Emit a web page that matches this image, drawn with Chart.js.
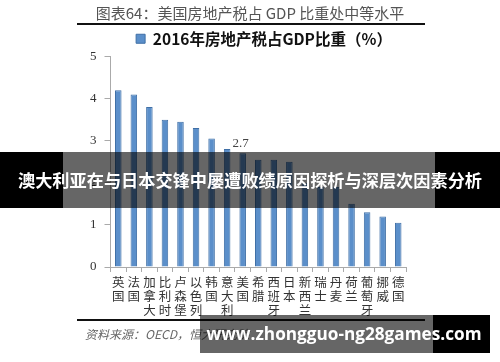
<!DOCTYPE html>
<html>
<head>
<meta charset="utf-8">
<script src="https://cdn.jsdelivr.net/npm/chart.js@4.4.1/dist/chart.umd.min.js"></script>
<style>
  html, body { margin: 0; padding: 0; background: #fff; }
  #wrap { position: relative; width: 500px; height: 362px; overflow: hidden; }
  canvas { position: absolute; left: 0; top: 0; }
  .blk { position: absolute; background: #000; }
  .dim { position: absolute; background: rgba(0, 0, 0, 0.6); }
  .txt { position: absolute; color: #fff; font-weight: bold; white-space: nowrap; text-align: center; }
</style>
</head>
<body>
<div id="wrap">
  <canvas id="fangchanshui" width="500" height="362"></canvas>

  <!-- banner in the middle -->
  <div class="blk" style="left:0; top:152px; width:63px; height:56px;"></div>
  <div class="dim" style="left:63px; top:152px; width:372px; height:56px;"></div>
  <div class="blk" style="left:435px; top:152px; width:65px; height:56px;"></div>
  <div class="txt" style="left:0; top:152px; width:500px; line-height:56px; font-size:17.2px; font-family:'Noto Sans CJK SC', sans-serif;">澳大利亚在与日本交锋中屡遭败绩原因探析与深层次因素分析</div>

  <!-- site banner at the bottom -->
  <div class="dim" style="left:200px; top:315px; width:233px; height:38px;"></div>
  <div class="blk" style="left:433px; top:315px; width:57px; height:38px;"></div>
  <div class="txt" style="left:205px; top:315px; width:278px; line-height:38px; font-size:17.2px; font-family:'Open Sans', 'DejaVu Sans', sans-serif;">www.zhongguo-ng28games.com</div>
</div>

<script>
// 2016年房地产税占GDP比重（%）
const guojia = [
  ["英", "国"], ["法", "国"], ["加", "拿", "大"], ["比", "利", "时"],
  ["卢", "森", "堡"], ["以", "色", "列"], ["韩", "国"], ["意", "大", "利"],
  ["美", "国"], ["希", "腊"], ["西", "班", "牙"], ["日", "本"],
  ["新", "西", "兰"], ["瑞", "士"], ["丹", "麦"], ["荷", "兰"],
  ["葡", "萄", "牙"], ["挪", "威"], ["德", "国"]
];
const bizhong = [4.2, 4.1, 3.8, 3.5, 3.45, 3.3, 3.05, 2.8, 2.7, 2.55, 2.55, 2.5, 2.0, 1.9, 1.9, 1.5, 1.3, 1.2, 1.05];
const yTicks = [0, 1, 2, 3, 4, 5];

const cjk = "'Noto Sans CJK SC', sans-serif";
const serif = "'Liberation Serif', 'DejaVu Serif', serif";

// 标题、横线、资料来源、2.7 标注
const zhuangshi = {
  id: "zhuangshi",
  afterLayout(chart) {
    // 图例比图表区中心稍微偏右
    chart.legend.left += 20;
    chart.legend.right += 20;
  },
  afterDraw(chart) {
    const c = chart.ctx;
    c.save();
    c.fillStyle = "#555";
    c.font = "15px " + cjk;
    c.textAlign = "center";
    c.textBaseline = "middle";
    c.fillText("图表64：美国房地产税占 GDP 比重处中等水平", 250, 13);

    c.strokeStyle = "#111";
    c.lineWidth = 2;
    c.beginPath();
    c.moveTo(77, 24); c.lineTo(425, 24);
    c.moveTo(77, 320); c.lineTo(425, 320);
    c.stroke();

    c.fillStyle = "#666";
    c.font = "italic 12px " + cjk;
    c.textAlign = "left";
    c.fillText("资料来源：OECD，恒大研究院", 85, 334);

    // 美国 2.7
    const i = 8;
    const x = chart.scales.x.getPixelForValue(i);
    const y = chart.scales.y.getPixelForValue(bizhong[i]);
    c.fillStyle = "#444";
    c.font = "13px " + serif;
    c.textAlign = "center";
    c.fillText("2.7", x - 2, y - 10);
    c.restore();
  }
};

const ctx = document.getElementById("fangchanshui");

new Chart(ctx, {
  type: "bar",
  data: {
    labels: guojia,
    datasets: [
      {
        label: "2016年房地产税占GDP比重（%）",
        data: bizhong,
        backgroundColor: "#5b8fca",
        borderColor: "#3f6fa6",
        borderWidth: 1,
        barPercentage: 0.42,
        categoryPercentage: 1,
      },
    ],
  },
  options: {
    responsive: false,
    animation: false,
    layout: {
      padding: { top: 30, left: 82, right: 94, bottom: 42 },
    },
    plugins: {
      legend: {
        position: "top",
        labels: {
          boxWidth: 9,
          boxHeight: 9,
          padding: 1,
          color: "#111",
          font: { size: 15.5, weight: "bold", family: cjk },
        },
      },
      title: { display: false },
      tooltip: { enabled: false },
    },
    scales: {
      y: {
        min: 0,
        max: 5,
        afterBuildTicks(axis) {
          axis.ticks = yTicks.map((v) => ({ value: v }));
        },
        border: { display: true, color: "#aaa", width: 1 },
        grid: { drawOnChartArea: false, drawTicks: true, tickLength: 6, color: "#aaa" },
        ticks: {
          padding: 8,
          color: "#333",
          font: { size: 13, family: serif },
        },
      },
      x: {
        border: { display: true, color: "#aaa", width: 1 },
        grid: { drawOnChartArea: false, drawTicks: true, tickLength: 5, color: "#aaa", offset: true },
        ticks: {
          padding: 3,
          maxRotation: 0,
          autoSkip: false,
          color: "#333",
          font: { size: 12.5, family: cjk, lineHeight: 1.12 },
        },
      },
    },
  },
  plugins: [zhuangshi],
});
</script>
</body>
</html>
